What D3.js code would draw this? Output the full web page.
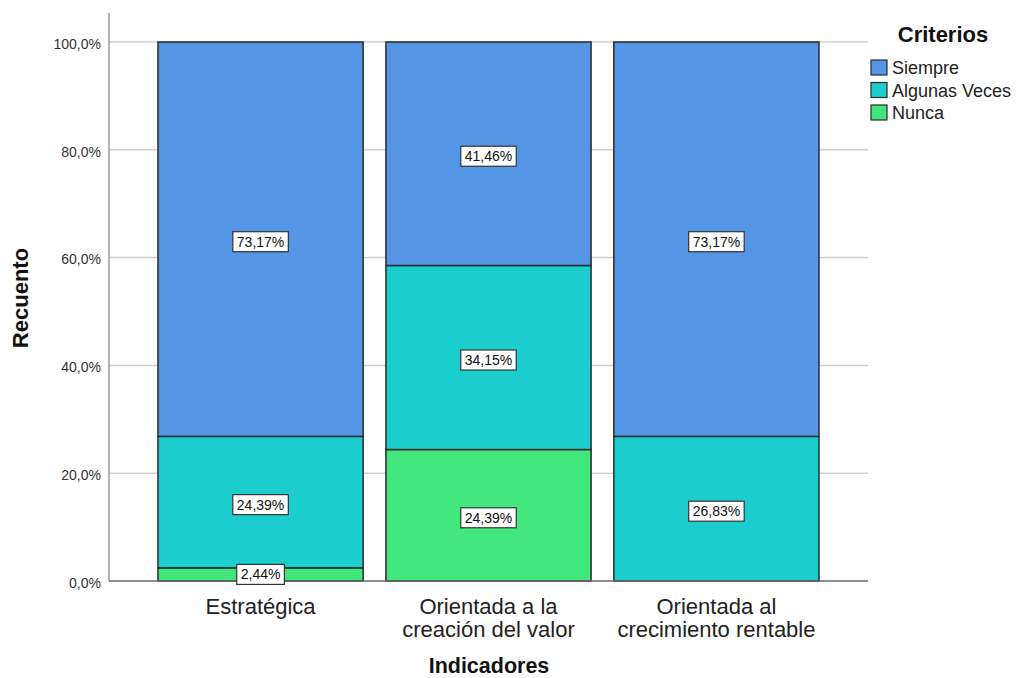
<!DOCTYPE html>
<html>
<head>
<meta charset="utf-8">
<script src="https://cdn.jsdelivr.net/npm/d3@7"></script>
<style>
  body { margin: 0; background: #fff; }
  svg { display: block; font-family: "Liberation Sans", Arial, sans-serif; }
</style>
</head>
<body>
<svg id="chart" width="1016" height="678"></svg>
<script>
// Indicators on the x axis, each split into its criteria percentages
const categories = [
  ["Estratégica"],
  ["Orientada a la", "creación del valor"],
  ["Orientada al", "crecimiento rentable"]
];
const criteria = ["Nunca", "Algunas Veces", "Siempre"];
const nunca = [2.44, 24.39, 0];
const algunasVeces = [24.39, 34.15, 26.83];
const siempre = [73.17, 41.46, 73.17];
const yTicks = [0, 20, 40, 60, 80, 100];
const legendOrder = ["Siempre", "Algunas Veces", "Nunca"];

const colors = {
  "Siempre": "#5595E5",
  "Algunas Veces": "#1CCDCD",
  "Nunca": "#41E77C"
};

const svg = d3.select("#chart");
const plotLeft = 109, plotRight = 868, plotTop = 42, plotBottom = 581;

const rows = categories.map((c, i) => ({
  key: i,
  lines: c,
  "Nunca": nunca[i],
  "Algunas Veces": algunasVeces[i],
  "Siempre": siempre[i]
}));

const x = d3.scaleBand()
  .domain(rows.map(r => r.key))
  .range([158, 819])
  .paddingInner(0.1)
  .paddingOuter(0);

const y = d3.scaleLinear().domain([0, 100]).range([plotBottom, plotTop]);

// gridlines
svg.append("g")
  .selectAll("line")
  .data(yTicks.filter(t => t > 0))
  .join("line")
  .attr("x1", plotLeft).attr("x2", plotRight)
  .attr("y1", d => y(d)).attr("y2", d => y(d))
  .attr("stroke", "#cfcfcf").attr("stroke-width", 1.5);

// y axis
const yAxis = d3.axisLeft(y)
  .tickValues(yTicks)
  .tickSize(0)
  .tickPadding(8)
  .tickFormat(d => d3.format(".1f")(d).replace(".", ",") + "%");
const gy = svg.append("g").attr("transform", `translate(${plotLeft},0)`).call(yAxis);
gy.select(".domain").remove();
gy.selectAll("text")
  .attr("font-size", 14).attr("fill", "#333")
  .attr("font-family", "Liberation Sans, Arial, sans-serif")
  .attr("dy", "0.45em");
svg.append("line")
  .attr("x1", plotLeft).attr("x2", plotLeft).attr("y1", 13).attr("y2", plotBottom)
  .attr("stroke", "#9a9a9a").attr("stroke-width", 1.5);

// stacked bars
const stack = d3.stack().keys(criteria);
const series = stack(rows);

const gBars = svg.append("g");
series.forEach(s => {
  gBars.selectAll(null)
    .data(s.filter(d => d[1] - d[0] > 0))
    .join("rect")
    .attr("x", d => x(d.data.key))
    .attr("width", x.bandwidth())
    .attr("y", d => y(d[1]))
    .attr("height", d => y(d[0]) - y(d[1]))
    .attr("fill", colors[s.key])
    .attr("stroke", "#2a2a2a")
    .attr("stroke-width", 1.5);
});

// bottom axis line
svg.append("line")
  .attr("x1", plotLeft).attr("x2", plotRight).attr("y1", plotBottom).attr("y2", plotBottom)
  .attr("stroke", "#6a6a6a").attr("stroke-width", 1.5);

// value labels
const gLabels = svg.append("g");
series.forEach(s => {
  s.filter(d => d[1] - d[0] > 0).forEach(d => {
    const cx = x(d.data.key) + x.bandwidth() / 2;
    const small = d[1] - d[0] < 5;
    const cy = (y(d[0]) + y(d[1])) / 2 + (small ? 0 : 2.5);
    const txt = d3.format(".2f")(d[1] - d[0]).replace(".", ",") + "%";
    const g = gLabels.append("g").attr("transform", `translate(${cx},${cy})`);
    const t = g.append("text")
      .attr("text-anchor", "middle")
      .attr("dy", "0.36em")
      .attr("font-size", 14)
      .attr("fill", "#111")
      .text(txt);
    const bb = t.node().getBBox();
    g.insert("rect", "text")
      .attr("x", bb.x - 4).attr("y", -10)
      .attr("width", bb.width + 8).attr("height", 20)
      .attr("fill", "#fff")
      .attr("stroke", "#333").attr("stroke-width", 1.2);
  });
});

// x tick labels
const gx = svg.append("g");
rows.forEach(r => {
  const t = gx.append("text")
    .attr("x", x(r.key) + x.bandwidth() / 2)
    .attr("y", 614)
    .attr("text-anchor", "middle")
    .attr("font-size", 22)
    .attr("fill", "#222");
  r.lines.forEach((ln, i) => {
    t.append("tspan")
      .attr("x", x(r.key) + x.bandwidth() / 2)
      .attr("dy", i === 0 ? 0 : 23)
      .text(ln);
  });
});

// axis titles
svg.append("text")
  .attr("x", 489).attr("y", 673)
  .attr("text-anchor", "middle")
  .attr("font-size", 21.5).attr("font-weight", "bold").attr("fill", "#111")
  .text("Indicadores");
svg.append("text")
  .attr("transform", "translate(28,298) rotate(-90)")
  .attr("text-anchor", "middle")
  .attr("font-size", 22).attr("font-weight", "bold").attr("fill", "#111")
  .text("Recuento");

// legend
const legend = svg.append("g");
legend.append("text")
  .attr("x", 943).attr("y", 42)
  .attr("text-anchor", "middle")
  .attr("font-size", 22).attr("font-weight", "bold").attr("fill", "#111")
  .text("Criterios");
legendOrder.forEach((k, i) => {
  const yy = 60 + i * 22.5;
  legend.append("rect")
    .attr("x", 871).attr("y", yy)
    .attr("width", 16).attr("height", 15)
    .attr("fill", colors[k]).attr("stroke", "#2a2a2a").attr("stroke-width", 1.2);
  legend.append("text")
    .attr("x", 892).attr("y", yy + 14)
    .attr("font-size", 18).attr("fill", "#222")
    .text(k);
});
</script>
</body>
</html>
